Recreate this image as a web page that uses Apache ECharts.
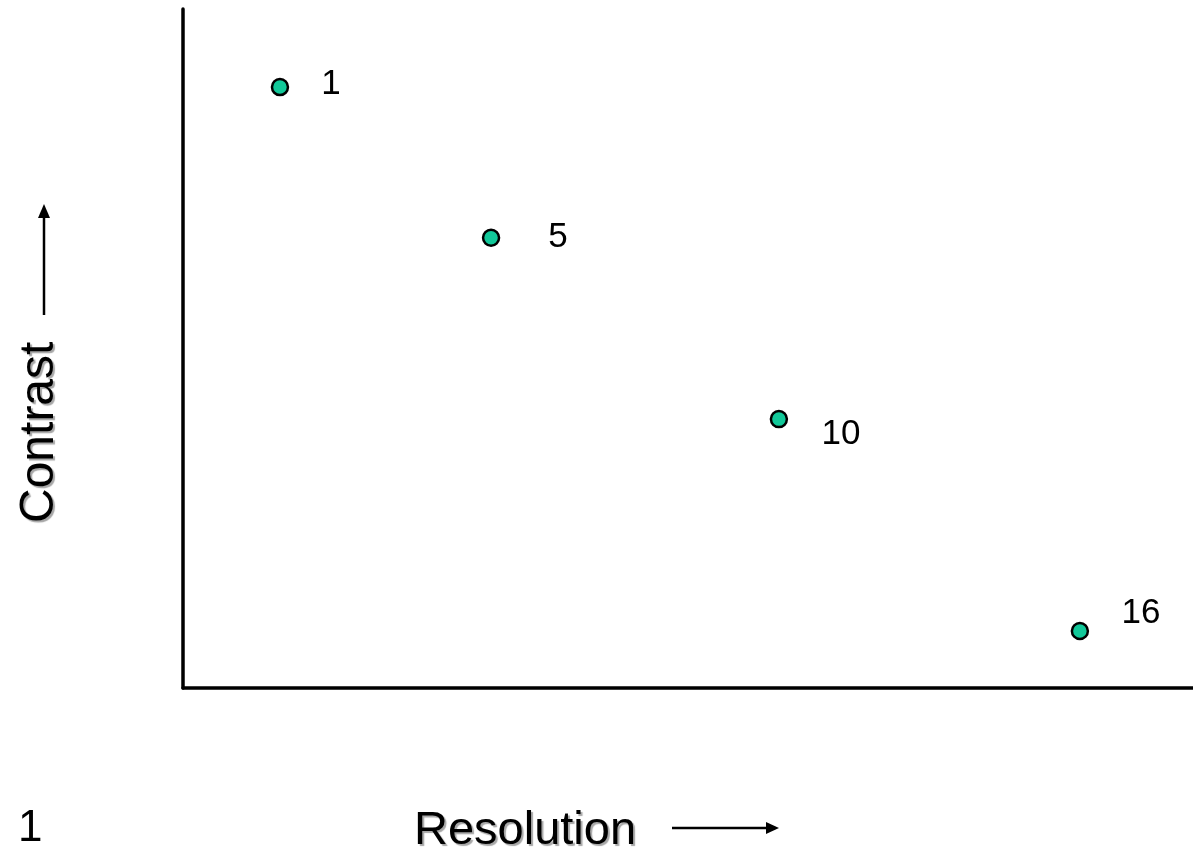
<!DOCTYPE html>
<html><head><meta charset="utf-8">
<script src="https://cdn.jsdelivr.net/npm/echarts@6/dist/echarts.min.js"></script>
<style>html,body{margin:0;padding:0;background:#fff}#c{width:1193px;height:849px}</style>
</head><body><div id="c"></div>
<script>
// Data
const pointNames = ['1', '5', '10', '16'];
const resolution = [0.96, 3.05, 5.90, 8.88];
const contrast = [8.85, 6.63, 3.96, 0.84];
const xTitle = 'Resolution';
const yTitle = 'Contrast';
const slideNumber = '1';

// Label placement (layout only)
const labelOffsets = [[51, -3], [67, 0], [62, 15], [61, -18]];

const chart = echarts.init(document.getElementById('c'), null, {renderer: 'canvas'});
const font = '"Liberation Sans", Arial, sans-serif';
const shadow = {textShadowColor: 'rgba(0,0,0,0.35)', textShadowOffsetX: 2, textShadowOffsetY: 2, textShadowBlur: 1};

const data = resolution.map((x, i) => ({
  value: [x, contrast[i]],
  name: pointNames[i],
  label: {offset: labelOffsets[i]}
}));

chart.setOption({
  animation: false,
  grid: {left: 183, right: -5, top: 9, bottom: 161},
  xAxis: {type: 'value', min: 0, max: 10, axisLine: {lineStyle: {color: '#000', width: 3.5}},
    axisTick: {show: false}, axisLabel: {show: false}, splitLine: {show: false}},
  yAxis: {type: 'value', min: 0, max: 10, axisLine: {lineStyle: {color: '#000', width: 3.5}},
    axisTick: {show: false}, axisLabel: {show: false}, splitLine: {show: false}},
  series: [{
    type: 'scatter',
    symbol: 'circle',
    symbolSize: 16,
    itemStyle: {color: '#12c899', borderColor: '#000', borderWidth: 2.5, opacity: 1},
    label: {show: true, position: 'inside', formatter: p => p.name,
      color: '#000', fontFamily: font, fontSize: 35},
    data: data
  }],
  graphic: [
    {type: 'text', left: 414, top: 808, style: Object.assign({text: xTitle, fill: '#000', font: '47px ' + font}, shadow)},
    {type: 'line', shape: {x1: 672, y1: 828, x2: 770, y2: 828}, style: {stroke: '#000', lineWidth: 2.5}},
    {type: 'polygon', shape: {points: [[766, 822], [779, 828], [766, 834]]}, style: {fill: '#000'}},
    {type: 'text', x: 16, y: 523, rotation: Math.PI / 2, style: Object.assign({text: yTitle, fill: '#000', font: '48px ' + font, textAlign: 'left', textVerticalAlign: 'top'}, shadow)},
    {type: 'line', shape: {x1: 44, y1: 315, x2: 44, y2: 214}, style: {stroke: '#000', lineWidth: 2.5}},
    {type: 'polygon', shape: {points: [[38, 218], [44, 204], [50, 218]]}, style: {fill: '#000'}},
    {type: 'text', left: 18, top: 807, style: {text: slideNumber, fill: '#000', font: '44px ' + font}}
  ]
});
</script></body></html>
